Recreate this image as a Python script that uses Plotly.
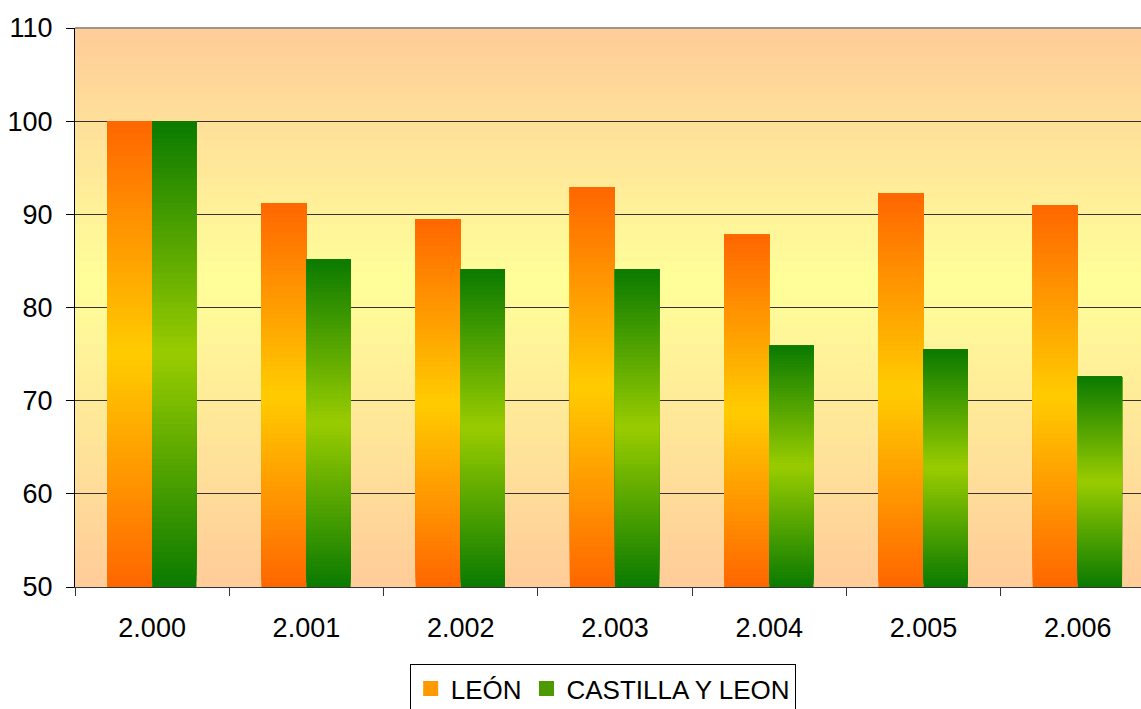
import plotly.graph_objects as go

categories = ["2.000", "2.001", "2.002", "2.003", "2.004", "2.005", "2.006"]
leon = [100.0, 91.2, 89.5, 92.9, 87.8, 92.3, 91.0]
castilla = [100.0, 85.2, 84.1, 84.1, 75.9, 75.5, 72.6]
series_names = ["LEÓN", "CASTILLA Y LEON"]
y_ticks = [50, 60, 70, 80, 90, 100, 110]

BASE = 50
N = 80


def hex2rgb(h):
    h = h.lstrip("#")
    return tuple(int(h[i:i + 2], 16) for i in (0, 2, 4))


def lerp(c1, c2, t):
    a, b = hex2rgb(c1), hex2rgb(c2)
    return "rgb(%d,%d,%d)" % tuple(round(a[i] + (b[i] - a[i]) * t) for i in range(3))


def tri(edge, mid, t, peak=0.5):
    if t <= peak:
        return lerp(edge, mid, t / peak)
    return lerp(mid, edge, (t - peak) / (1 - peak))


def gradient_trace(values, edge, mid, offset, width):
    xs, bases, ys, cols = [], [], [], []
    for k in range(N):
        t = (k + 0.5) / N
        c = tri(edge, mid, t)
        for cat, v in zip(categories, values):
            h = v - BASE
            b = BASE + h * k / N
            xs.append(cat)
            bases.append(b)
            ys.append(v - b)
            cols.append(c)
    return go.Bar(x=xs, y=ys, base=bases, marker=dict(color=cols, line=dict(width=0)),
                  offset=offset, width=width, showlegend=False, hoverinfo="skip")


fig = go.Figure()
fig.add_trace(gradient_trace(leon, "#FF6600", "#FFCC00", -0.292, 0.292))
fig.add_trace(gradient_trace(castilla, "#0A7A00", "#99CC00", 0.0, 0.287))

# legend entries
fig.add_trace(go.Bar(x=[None], y=[None], name=series_names[0],
                     marker=dict(color="#FF9900", line=dict(color="#FF9900", width=3))))
fig.add_trace(go.Bar(x=[None], y=[None], name=series_names[1],
                     marker=dict(color="#4C9900", line=dict(color="#4C9900", width=3))))

# background gradient of the plot area
shapes = []
M = 60
for i in range(M):
    t0, t1 = i / M, (i + 1) / M
    c = tri("#FFCC99", "#FFFF99", (t0 + t1) / 2, peak=0.55)
    shapes.append(dict(type="rect", xref="paper", yref="paper", x0=0, x1=1, y0=t0, y1=t1 + 0.002,
                       fillcolor=c, line=dict(width=0), layer="below"))
# top border of the plot area
shapes.append(dict(type="line", xref="paper", yref="paper", x0=0, x1=1, y0=1, y1=1,
                   line=dict(color="#808080", width=1.5), layer="above"))

font = dict(family="Liberation Sans, Arial, sans-serif", size=27, color="black")
legend_font = dict(family="Liberation Sans, Arial, sans-serif", size=26, color="black")

fig.update_layout(
    width=1141, height=709,
    margin=dict(l=75, r=0, t=28, b=122, autoexpand=False),
    paper_bgcolor="white", plot_bgcolor="#FFE6A0",
    barmode="overlay",
    shapes=shapes,
    font=font,
    showlegend=True,
    legend=dict(orientation="h", x=0.495, xanchor="center", y=-0.138, yanchor="top",
                bordercolor="black", borderwidth=1, bgcolor="white", font=legend_font,
                tracegroupgap=0),
    xaxis=dict(type="category", categoryorder="array", categoryarray=categories,
               range=[-0.5, 6.41], showline=True, linecolor="#333333", linewidth=1,
               ticks="outside", tickson="boundaries", ticklen=8, tickcolor="#333333",
               showgrid=False, ticklabelstandoff=17, tickfont=font, automargin=False),
    yaxis=dict(range=[50, 110], tickvals=y_ticks, showline=True, linecolor="black",
               linewidth=1, ticks="outside", ticklen=8, tickcolor="black",
               showgrid=True, gridcolor="#333333", gridwidth=1, zeroline=False,
               ticklabelstandoff=8, tickfont=font, automargin=False),
)

fig.write_html("out.html", config={"displayModeBar": False},
               post_script="document.body.style.margin='0';document.body.style.overflow='hidden';")
